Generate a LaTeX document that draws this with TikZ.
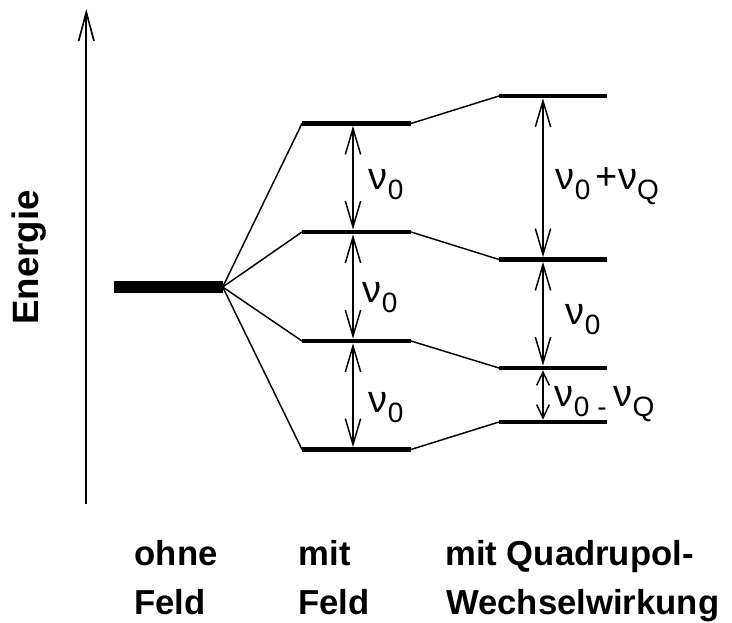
\documentclass[tikz,border=0pt]{standalone}
\usepackage{fontspec}
\setmainfont{Liberation Sans}
\usetikzlibrary{arrows.meta}
\newcommand\lvsub[1]{\raisebox{-7.5pt}{\fontsize{21pt}{22pt}\selectfont #1}}
\begin{document}
\begin{tikzpicture}[x=0.75pt,y=-0.75pt,
  thinline/.style={line width=1.1pt},
  lvl/.style={line width=3.6pt},
  bigbar/.style={line width=9pt},
  gaparrow/.style={line width=1.1pt,{Straight Barb[length=19.5pt,width=11.5pt]}-{Straight Barb[length=19.5pt,width=11.5pt]},shorten <=1.75pt,shorten >=1.75pt},
  smallgap/.style={line width=1.1pt,{Straight Barb[length=10pt,width=9.5pt]}-{Straight Barb[length=10pt,width=9.5pt]},shorten <=1.75pt,shorten >=1.75pt},
  lab/.style={inner sep=0pt,anchor=base west,font=\fontsize{28.5pt}{30pt}\selectfont},
  title/.style={inner sep=0pt,anchor=base west,font=\fontsize{26pt}{28pt}\selectfont\bfseries}]
\useasboundingbox (0,0) rectangle (732,623);

% energy axis
\coordinate (axb) at (86.3,504);
\coordinate (axt) at (86.3,9);
\draw[line width=1.25pt,-{Straight Barb[length=21.5pt,width=11.5pt]}] (axb) -- (axt);
\node[rotate=90,anchor=base,inner sep=0pt,font=\fontsize{27.5pt}{29pt}\selectfont\bfseries] (energie) at (38,257.5) {Energie};

% level without field
\coordinate (sl) at (114,287);
\coordinate (sr) at (222.7,287);
\draw[bigbar] (sl) -- (sr);

% levels with field
\foreach \i/\y in {1/123.5,2/232,3/341,4/449.5}{
  \coordinate (m\i l) at (302,\y);
  \coordinate (m\i r) at (411,\y);
  \coordinate (m\i a) at (353,\y);
}
% levels with quadrupole interaction
\foreach \i/\y in {1/96,2/259.5,3/368,4/422}{
  \coordinate (q\i l) at (499,\y);
  \coordinate (q\i r) at (607,\y);
  \coordinate (q\i a) at (543,\y);
}
\foreach \i in {1,2,3,4}{
  \draw[lvl] (m\i l) -- (m\i r);
  \draw[lvl] (q\i l) -- (q\i r);
  \draw[thinline] (sr) -- (m\i l);
  \draw[thinline] (m\i r) -- (q\i l);
}

% splittings
\draw[gaparrow] (m1a) -- (m2a);
\draw[gaparrow] (m2a) -- (m3a);
\draw[gaparrow] (m3a) -- (m4a);
\draw[gaparrow] (q1a) -- (q2a);
\draw[gaparrow] (q2a) -- (q3a);
\draw[smallgap] (q3a) -- (q4a);

% labels
\node[lab] (l1) at (368,190) {ν\hspace{0.5pt}\lvsub{0}};
\node[lab] (l2) at (362,303) {ν\hspace{0.5pt}\lvsub{0}};
\node[lab] (l3) at (368,413) {ν\hspace{0.5pt}\lvsub{0}};
\node[lab] (lq1) at (555,190) {ν\hspace{0.5pt}\lvsub{0}\hspace{4pt}+ν\lvsub{Q}};
\node[lab] (lq2) at (565,325) {ν\hspace{0.5pt}\lvsub{0}};
\node[lab] (lq3) at (554,407) {ν\hspace{0.5pt}\lvsub{0\hspace{6pt}-\hspace{5pt}}ν\lvsub{Q}};

% column titles
\node[title] (t1a) at (134.5,565) {ohne};
\node[title] (t1b) at (134,614) {Feld};
\node[title] (t2a) at (298.5,565) {mit};
\node[title] (t2b) at (298,614) {Feld};
\node[title] (t3a) at (445,565) {mit Quadrupol-};
\node[title] (t3b) at (446,614) {Wechselwirkung};
\end{tikzpicture}
\end{document}
